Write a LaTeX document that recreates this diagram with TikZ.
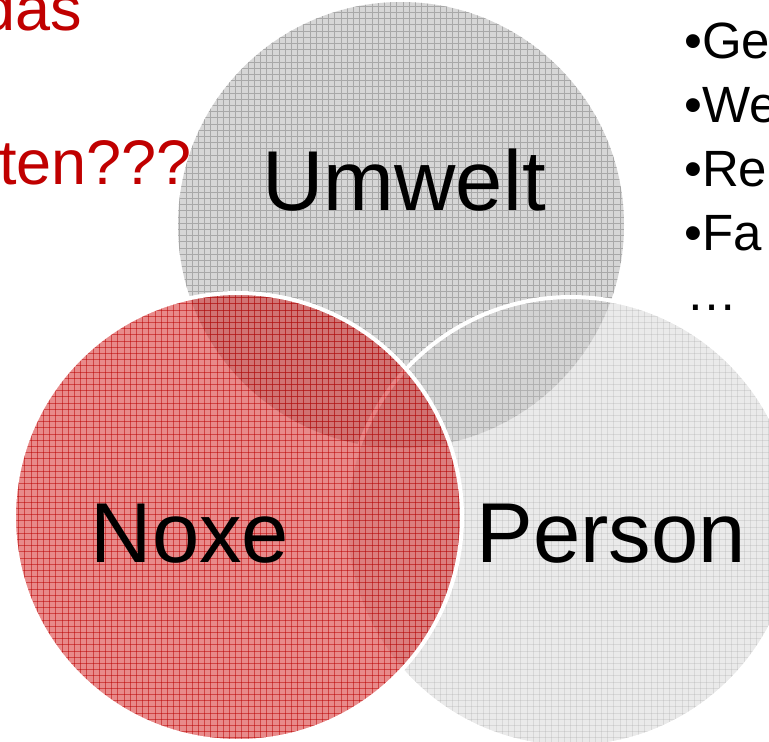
\documentclass[tikz,border=0pt]{standalone}
\usepackage{fontspec}
\setmainfont{Liberation Sans}
\definecolor{umfill}{RGB}{214,214,214}
\definecolor{umgrid}{RGB}{168,168,168}
\definecolor{pefill}{RGB}{208,208,208}
\definecolor{pegrid}{RGB}{160,160,160}
\definecolor{noxfill}{RGB}{205,0,0}
\definecolor{noxgrid}{RGB}{185,0,0}
\definecolor{redtext}{RGB}{192,0,0}
\tikzset{
  biglbl/.style={inner sep=0pt, text=black, font=\fontsize{85}{90}\selectfont},
  redlbl/.style={inner sep=0pt, text=redtext, font=\fontsize{63}{70}\selectfont},
  bulletlbl/.style={inner sep=0pt, text=black, anchor=base west, font=\fontsize{51}{56}\selectfont},
  gridlines/.style={line width=0.7pt}
}
\newcommand{\gridfill}[1]{%
  \foreach \gi in {0,...,124} {\draw[#1] (\gi*6.2,0) -- (\gi*6.2,742);}%
  \foreach \gj in {0,...,120} {\draw[#1] (0,\gj*6.2) -- (769,\gj*6.2);}%
}
\begin{document}
\begin{tikzpicture}[x=1pt,y=-1pt]
\useasboundingbox (0,0) rectangle (769,742);
\fill[white] (0,0) rectangle (769,742);
\coordinate (cu) at (401,225);
\coordinate (cp) at (571,522);
\coordinate (cn) at (238,517);
% Umwelt circle
\begin{scope}
  \clip (cu) circle [radius=223];
  \fill[umfill] (0,0) rectangle (769,742);
  \gridfill{umgrid, gridlines}
\end{scope}
% Person circle
\begin{scope}
  \clip (cp) circle [radius=225];
  \fill[pefill, fill opacity=0.43] (0,0) rectangle (769,742);
  \gridfill{pegrid, gridlines, draw opacity=0.25}
\end{scope}
\draw[white, line width=4pt] (cp) circle [radius=225];
% Noxe circle
\begin{scope}
  \clip (cn) circle [radius=224];
  \fill[noxfill, fill opacity=0.46] (0,0) rectangle (769,742);
  \gridfill{noxgrid, gridlines, draw opacity=0.5}
\end{scope}
\draw[white, line width=4pt] (cn) circle [radius=224];
% labels
\node[biglbl, anchor=base] (umwelt) at (404,210) {Umwelt};
\node[biglbl, anchor=base] (noxe) at (190,562) {Noxe};
\node[biglbl, anchor=base] (person) at (611,562) {Person};
% red text
\node[redlbl, anchor=base east] (das) at (82,30) {das};
\node[redlbl, anchor=base east] (ten) at (192,184) {ten???};
% bullets
\node[bulletlbl] (b1) at (684,58) {•Ge};
\node[bulletlbl] (b2) at (684,122) {•We};
\node[bulletlbl] (b3) at (684,186) {•Re};
\node[bulletlbl] (b4) at (684,250) {•Fa};
\node[bulletlbl] (dots) at (686,310) {…};
\end{tikzpicture}
\end{document}
